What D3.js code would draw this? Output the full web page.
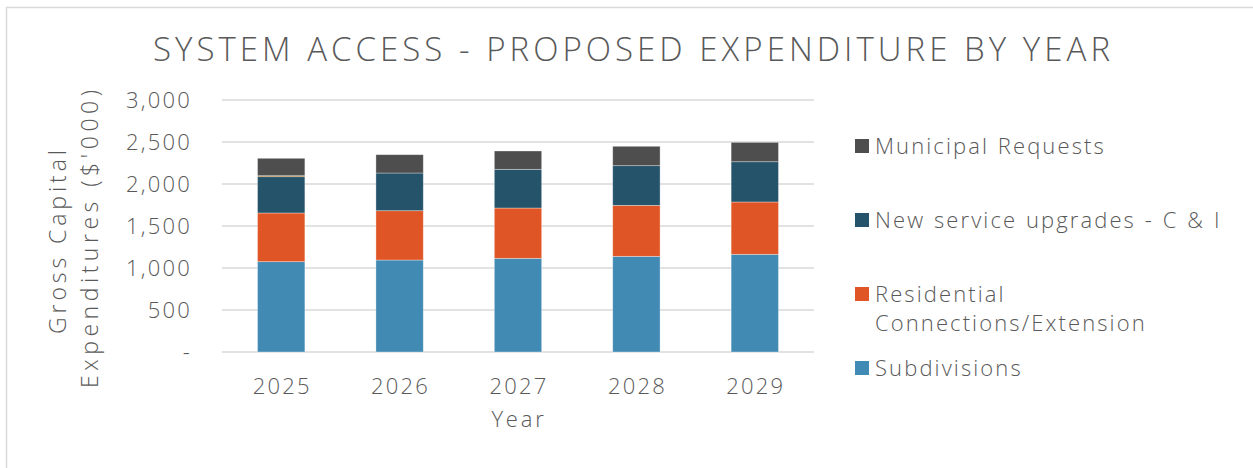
<!DOCTYPE html>
<html>
<head>
<meta charset="utf-8">
<script src="https://cdn.jsdelivr.net/npm/d3@7"></script>
<style>
  html, body { margin: 0; padding: 0; background: #fff; }
  svg { display: block; }
  text { font-family: "Open Sans", "DejaVu Sans", sans-serif; fill: #595959; font-weight: 300; }
</style>
</head>
<body>
<svg id="chart" width="1253" height="468"></svg>
<script>
// Proposed expenditure by year, $'000
const years = ["2025", "2026", "2027", "2028", "2029"];
const subdivisions = [1075, 1095, 1115, 1139, 1163];
const residential = [580, 587, 599, 607, 623];
const newService = [432, 449, 461, 472, 479];
const minorItems = [12, 0, 0, 0, 0];
const municipal = [207, 218, 218, 231, 231];

const yTicks = [0, 500, 1000, 1500, 2000, 2500, 3000];

const seriesNames = ["Subdivisions", "Residential Connections/Extension", "New service upgrades - C & I", "Minor items", "Municipal Requests"];
const seriesValues = [subdivisions, residential, newService, minorItems, municipal];
const seriesColors = ["#418AB3", "#E05526", "#255369", "#9A5500", "#4E4E4E"];

const svg = d3.select("#chart");

// chart frame
svg.append("path")
  .attr("d", "M6.5,468 V7.5 H1253")
  .attr("fill", "none")
  .attr("stroke", "#d9d9d9")
  .attr("stroke-width", 1.5);

const x = d3.scaleBand().domain(years).range([222, 814]).paddingInner(0.6).paddingOuter(0.3);
const y = d3.scaleLinear().domain([0, 3000]).range([352, 100]);

// gridlines
svg.append("g")
  .selectAll("line")
  .data(yTicks)
  .join("line")
  .attr("x1", 222).attr("x2", 814)
  .attr("y1", d => y(d)).attr("y2", d => y(d))
  .attr("stroke", "#d9d9d9")
  .attr("stroke-width", 1.5);

// stacked bars
const rows = years.map((yr, i) => {
  const r = { year: yr };
  seriesNames.forEach((n, k) => { r[n] = seriesValues[k][i]; });
  return r;
});
const stack = d3.stack().keys(seriesNames)(rows);

svg.append("g")
  .selectAll("g")
  .data(stack)
  .join("g")
  .attr("fill", (d, k) => seriesColors[k])
  .selectAll("rect")
  .data(d => d.filter(s => s[1] - s[0] > 0))
  .join("rect")
  .attr("x", d => x(d.data.year))
  .attr("width", x.bandwidth())
  .attr("y", d => y(d[1]))
  .attr("height", d => y(d[0]) - y(d[1]))
  .attr("stroke", "rgba(255,255,255,0.45)")
  .attr("stroke-width", 0.75);

// y axis tick labels
const yFmt = d3.format(",");
svg.append("g")
  .selectAll("text")
  .data(yTicks)
  .join("text")
  .attr("x", 192)
  .attr("y", d => y(d))
  .attr("dy", "0.35em")
  .attr("text-anchor", "end")
  .style("font-size", "22px")
  .style("letter-spacing", "2.2px")
  .text(d => d === 0 ? "-" : yFmt(d));

// x axis tick labels
svg.append("g")
  .selectAll("text")
  .data(years)
  .join("text")
  .attr("x", d => x(d) + x.bandwidth() / 2 + 1)
  .attr("y", 394)
  .attr("text-anchor", "middle")
  .style("font-size", "22px")
  .style("letter-spacing", "2.2px")
  .text(d => d);

// axis titles
svg.append("text")
  .attr("x", 519).attr("y", 427)
  .attr("text-anchor", "middle")
  .style("font-size", "22px")
  .style("letter-spacing", "2.8px")
  .text("Year");

const yTitle = svg.append("g").attr("transform", "translate(0,242) rotate(-90)");
yTitle.append("text")
  .attr("x", -92).attr("y", 66)
  .attr("textLength", 184)
  .attr("lengthAdjust", "spacing")
  .style("font-size", "23px")
  .text("Gross Capital");
yTitle.append("text")
  .attr("x", -146).attr("y", 98)
  .attr("textLength", 298)
  .attr("lengthAdjust", "spacing")
  .style("font-size", "23px")
  .text("Expenditures ($'000)");

// title
svg.append("text")
  .attr("x", 153).attr("y", 61)
  .attr("textLength", 957)
  .attr("lengthAdjust", "spacing")
  .style("font-size", "33px")
  .text("SYSTEM ACCESS - PROPOSED EXPENDITURE BY YEAR");

// legend
const legendItems = [
  { k: 4, lines: ["Municipal Requests"], box: 139, base: 154 },
  { k: 2, lines: ["New service upgrades - C & I"], box: 213, base: 228 },
  { k: 1, lines: ["Residential", "Connections/Extension"], box: 287, base: 302 },
  { k: 0, lines: ["Subdivisions"], box: 361, base: 376 }
];
const lg = svg.append("g");
legendItems.forEach(it => {
  lg.append("rect")
    .attr("x", 855).attr("y", it.box)
    .attr("width", 14).attr("height", 14)
    .attr("fill", seriesColors[it.k]);
  it.lines.forEach((t, j) => {
    lg.append("text")
      .attr("x", 875).attr("y", it.base + j * 29)
      .style("font-size", "22px")
      .style("letter-spacing", "2.1px")
      .style("word-spacing", "1px")
      .text(t);
  });
});
</script>
</body>
</html>
